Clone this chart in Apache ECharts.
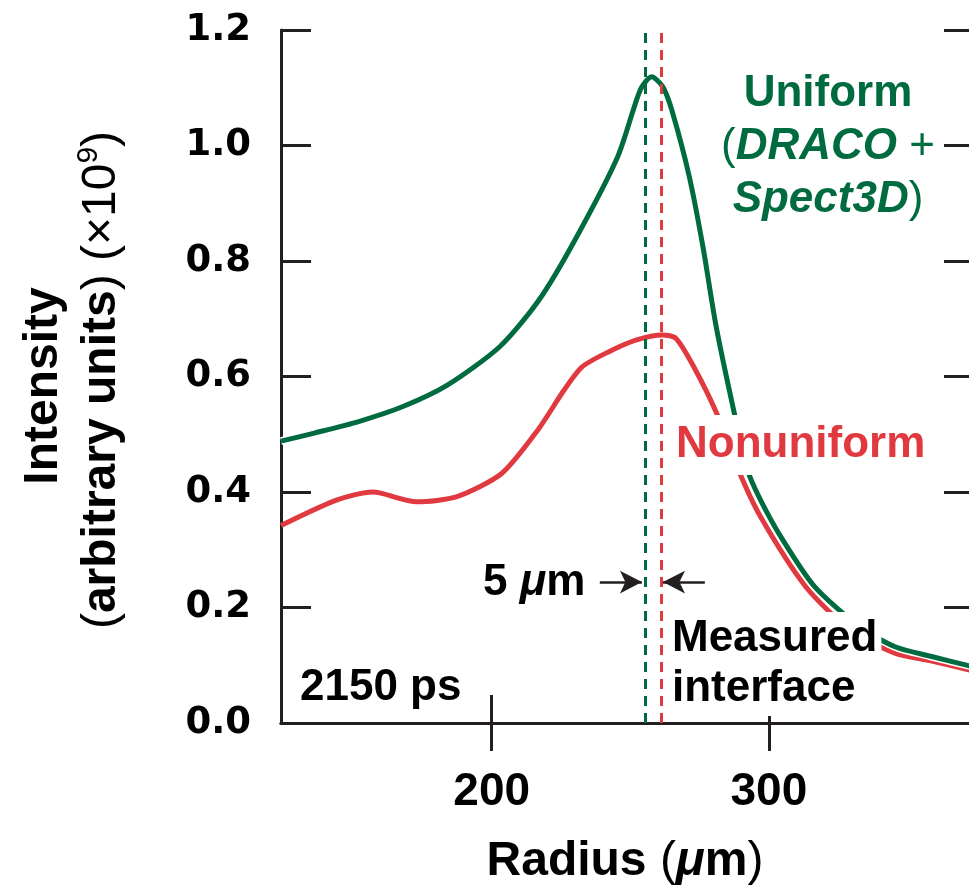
<!DOCTYPE html>
<html>
<head>
<meta charset="utf-8">
<script src="https://cdn.jsdelivr.net/npm/echarts/dist/echarts.min.js"></script>
<style>
  html, body { margin: 0; padding: 0; background: #fff; }
  #chart { width: 969px; height: 891px; }
</style>
</head>
<body>
<div id="chart"></div>
<script>
// radius (um) and intensity (x1e9)
var uniformRadius = [124, 136, 152, 168, 184, 203, 217, 230, 245.5, 253.6, 257.7, 261.7, 265, 271.3, 276.2, 281, 287.5, 292.3, 297, 305, 316.5, 332.6, 345.5, 358, 374];
var uniformIntensity = [0.488, 0.502, 0.522, 0.548, 0.585, 0.652, 0.732, 0.836, 0.981, 1.096, 1.119, 1.102, 1.061, 0.946, 0.825, 0.686, 0.537, 0.438, 0.386, 0.317, 0.236, 0.167, 0.132, 0.116, 0.097];
var nonuniformRadius = [124, 144, 157, 160, 173, 187.5, 203.6, 216.6, 226.2, 232.7, 242.3, 252, 261.7, 266.5, 272.9, 281, 289, 297, 313.3, 329.4, 345.5, 358, 374];
var nonuniformIntensity = [0.342, 0.386, 0.400, 0.398, 0.383, 0.392, 0.432, 0.507, 0.577, 0.617, 0.643, 0.663, 0.672, 0.666, 0.617, 0.538, 0.438, 0.357, 0.236, 0.161, 0.121, 0.108, 0.090];
var xTicks = [200, 300];
var interfaceUniform = 255.5;
var interfaceNonuniform = 261.3;
var arrowLevel = 0.244;

var GREEN = '#006b3f';
var RED = '#e03a40';
var FONT = '"Liberation Sans", Arial, sans-serif';

function pairs(xs, ys) {
  var out = [];
  for (var i = 0; i < xs.length; i++) out.push([xs[i], ys[i]]);
  return out;
}

var axisLine = { show: true, lineStyle: { color: '#231f20', width: 3 } };
var tickStyle = { color: '#231f20', width: 3 };

var chart = echarts.init(document.getElementById('chart'));
chart.setOption({
  animation: false,
  grid: { left: 281, right: -5, top: 30, bottom: 168, containLabel: false, outerBoundsMode: 'none' },
  xAxis: [
    {
      type: 'value', min: 124, max: 374, position: 'bottom',
      axisLine: axisLine,
      axisTick: { show: true, inside: true, length: 28, customValues: xTicks, lineStyle: tickStyle },
      axisLabel: { customValues: xTicks, margin: 46, color: '#000', fontFamily: FONT, fontWeight: 'bold', fontSize: 46 },
      splitLine: { show: false }
    },
    {
      type: 'value', min: 124, max: 374, position: 'top',
      axisLine: axisLine,
      axisTick: { show: true, inside: true, length: 28, customValues: xTicks, lineStyle: tickStyle },
      axisLabel: { show: false },
      splitLine: { show: false }
    }
  ],
  yAxis: [
    {
      type: 'value', min: 0, max: 1.2, interval: 0.2, position: 'left',
      axisLine: axisLine,
      axisTick: { show: true, inside: true, length: 30, lineStyle: tickStyle },
      axisLabel: {
        margin: 30, color: '#000', fontFamily: '"DejaVu Sans", sans-serif', fontWeight: 'bold', fontSize: 37,
        formatter: function (v) { return v.toFixed(1); }
      },
      splitLine: { show: false }
    },
    {
      type: 'value', min: 0, max: 1.2, interval: 0.2, position: 'right',
      axisLine: axisLine,
      axisTick: { show: true, inside: true, length: 30, lineStyle: tickStyle },
      axisLabel: { show: false },
      splitLine: { show: false }
    }
  ],
  series: [
    {
      name: 'Nonuniform', type: 'line', smooth: 0.25, symbol: 'none',
      data: pairs(nonuniformRadius, nonuniformIntensity),
      lineStyle: { color: RED, width: 5 }
    },
    {
      name: 'outline', type: 'line', smooth: 0.25, symbol: 'none',
      data: pairs(uniformRadius, uniformIntensity),
      lineStyle: { color: '#fff', width: 8 }
    },
    {
      name: 'Uniform', type: 'line', smooth: 0.25, symbol: 'none',
      data: pairs(uniformRadius, uniformIntensity),
      lineStyle: { color: GREEN, width: 5 }
    },
    {
      name: 'marks', type: 'line', data: [],
      markLine: {
        silent: true, animation: false,
        symbol: ['none', 'none'],
        label: { show: false },
        data: [
          { xAxis: interfaceUniform, lineStyle: { color: GREEN, width: 3, type: [10, 7] } },
          { xAxis: interfaceNonuniform, lineStyle: { color: RED, width: 3, type: [10, 7] } },
          [
            { coord: [239, arrowLevel], symbol: 'none', lineStyle: { color: '#231f20', width: 2.5, type: 'solid' } },
            { coord: [254.2, arrowLevel], symbol: 'arrow', symbolSize: [17, 22] }
          ],
          [
            { coord: [276.9, arrowLevel], symbol: 'none', lineStyle: { color: '#231f20', width: 2.5, type: 'solid' } },
            { coord: [261.8, arrowLevel], symbol: 'arrow', symbolSize: [17, 22] }
          ]
        ]
      }
    }
  ],
  graphic: [
    {
      type: 'text', x: 44, y: 386, rotation: Math.PI / 2, z: 100,
      style: {
        text: 'Intensity', fill: '#000', font: 'bold 48px ' + FONT,
        align: 'center', verticalAlign: 'middle', textAlign: 'center', textVerticalAlign: 'middle'
      }
    },
    {
      type: 'text', x: 102, y: 380, rotation: Math.PI / 2, z: 100,
      style: {
        text: '{p|(}{b|arbitrary units}{p|) (×10}{s|9}{p|)}',
        fill: '#000',
        align: 'center', verticalAlign: 'middle', textAlign: 'center', textVerticalAlign: 'middle',
        rich: {
          p: { fontFamily: FONT, fontSize: 48, fontWeight: 'normal', lineHeight: 56 },
          b: { fontFamily: FONT, fontSize: 48, fontWeight: 'bold', lineHeight: 56 },
          s: { fontFamily: FONT, fontSize: 30, fontWeight: 'normal', lineHeight: 32, verticalAlign: 'top' }
        }
      }
    },
    {
      type: 'text', x: 625, y: 862, z: 100,
      style: {
        text: '{b|Radius }{p|(}{i|μ}{b|m}{p|)}',
        fill: '#000',
        align: 'center', verticalAlign: 'middle', textAlign: 'center', textVerticalAlign: 'middle',
        rich: {
          b: { fontFamily: FONT, fontSize: 48, fontWeight: 'bold' },
          p: { fontFamily: FONT, fontSize: 48, fontWeight: 'normal' },
          i: { fontFamily: FONT, fontSize: 48, fontWeight: 'bold', fontStyle: 'italic' }
        }
      }
    },
    {
      type: 'text', x: 828, y: 147, z: 100,
      style: {
        text: '{b|Uniform}\n{p|(}{i|DRACO}{p| +}\n{i|Spect3D}{p|)}',
        fill: GREEN,
        align: 'center', verticalAlign: 'middle', textAlign: 'center', textVerticalAlign: 'middle',
        rich: {
          b: { fontFamily: FONT, fontSize: 44, fontWeight: 'bold', lineHeight: 53, fill: GREEN },
          p: { fontFamily: FONT, fontSize: 44, fontWeight: 'normal', lineHeight: 53, fill: GREEN },
          i: { fontFamily: FONT, fontSize: 44, fontWeight: 'bold', fontStyle: 'italic', lineHeight: 53, fill: GREEN }
        }
      }
    },
    {
      type: 'text', x: 672, y: 445, z: 100,
      style: {
        text: 'Nonuniform', fill: RED, font: 'bold 44px ' + FONT,
        backgroundColor: '#fff', padding: [8, 4, 8, 4],
        align: 'left', verticalAlign: 'middle', textAlign: 'left', textVerticalAlign: 'middle'
      }
    },
    {
      type: 'text', x: 483, y: 583, z: 100,
      style: {
        text: '{b|5 }{i|μ}{b|m}', fill: '#000',
        align: 'left', verticalAlign: 'middle', textAlign: 'left', textVerticalAlign: 'middle',
        rich: {
          b: { fontFamily: FONT, fontSize: 44, fontWeight: 'bold' },
          i: { fontFamily: FONT, fontSize: 44, fontWeight: 'bold', fontStyle: 'italic' }
        }
      }
    },
    {
      type: 'text', x: 668, y: 664, z: 100,
      style: {
        text: 'Measured\ninterface', fill: '#000', font: 'bold 44px ' + FONT,
        lineHeight: 50, backgroundColor: '#fff', padding: [2, 4, 2, 4],
        align: 'left', verticalAlign: 'middle', textAlign: 'left', textVerticalAlign: 'middle'
      }
    },
    {
      type: 'text', x: 300, y: 688, z: 100,
      style: {
        text: '2150 ps', fill: '#000', font: 'bold 44px ' + FONT,
        align: 'left', verticalAlign: 'middle', textAlign: 'left', textVerticalAlign: 'middle'
      }
    }
  ]
});
</script>
</body>
</html>
